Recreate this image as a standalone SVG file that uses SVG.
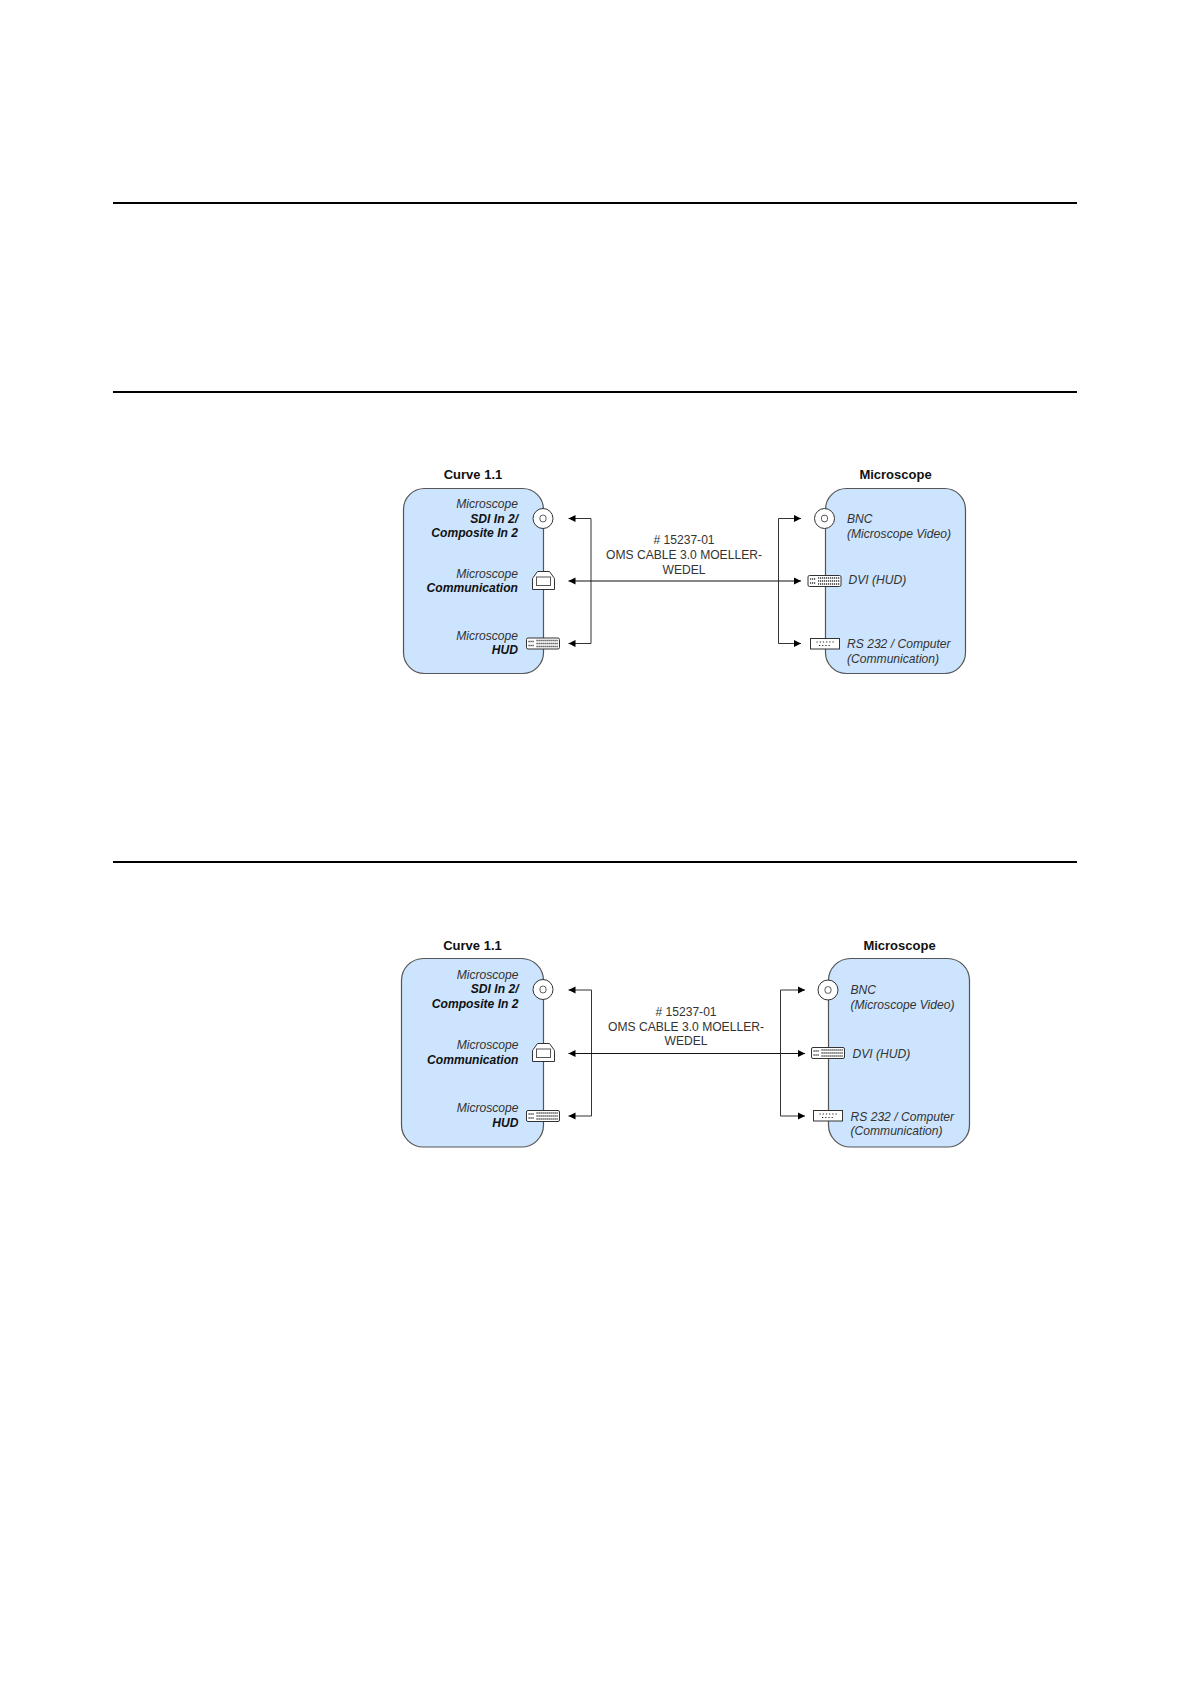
<svg xmlns="http://www.w3.org/2000/svg" width="1191" height="1684" viewBox="0 0 1191 1684">
<style>
text{font-family:"Liberation Sans",Arial,sans-serif;fill:#222;font-size:12.1px}
.h{font-weight:bold;font-size:13px;text-anchor:middle;fill:#111}
.i{font-style:italic;fill:#333}
.b{font-style:italic;font-weight:bold;fill:#111}
.r{text-anchor:end}
.c{text-anchor:middle;fill:#333}
.box{fill:#cce4fd;stroke:#555;stroke-width:1.200}
.ic{fill:#fff;stroke:#333;stroke-width:1}
.in{fill:#fff;stroke:#555;stroke-width:1}
.rule{stroke:#000;stroke-width:2}
.w{fill:none;stroke:#333;stroke-width:1}
.m{fill:none;stroke:#111;stroke-width:1.200}
.pin{fill:none;stroke:#333;stroke-width:1.400;stroke-dasharray:1.200 0.800}
</style>
<defs>
<marker id="ah" markerUnits="userSpaceOnUse" markerWidth="8" markerHeight="8" refX="7" refY="4" orient="auto-start-reverse"><path d="M0 0.500L7 4L0 7.500Z" fill="#000"/></marker>
<g id="bnc"><circle r="10" class="ic"/><rect x="-3" y="-3.300" width="6" height="6.600" rx="2.500" class="in"/></g>
<g id="usb"><path d="M0 18V7L5 0H17L22 7V18Z" class="ic"/><rect x="4" y="5.500" width="14" height="8.500" class="in"/></g>
<g id="dvi"><rect width="33" height="11" rx="1.500" class="ic"/><path d="M2 3.500H8M2 7.500H8" class="pin"/><path d="M10 2.500H31.500M10 5.500H31.500M10 8.500H31.500" class="pin"/></g>
<g id="rs"><rect width="29" height="10.500" class="ic"/><path d="M6 3.500H24M8.500 7H21" stroke="#222" stroke-width="1.200" stroke-dasharray="1.200 2" fill="none"/></g>
</defs>
<g id="rules">
<line class="rule" x1="113" y1="203" x2="1077" y2="203"/>
<line class="rule" x1="113" y1="392" x2="1077" y2="392"/>
<line class="rule" x1="113" y1="862" x2="1077" y2="862"/>
</g>

<g id="curve-top">
<text class="h" x="473" y="479">Curve 1.1</text>
<rect class="box" x="403.500" y="488.500" width="140" height="185" rx="21"/>
<text class="i r" x="518" y="508">Microscope</text>
<text class="b r" x="518" y="522.500">SDI In 2/</text>
<text class="b r" x="518" y="537">Composite In 2</text>
<text class="i r" x="518" y="578">Microscope</text>
<text class="b r" x="518" y="592">Communication</text>
<text class="i r" x="518" y="640">Microscope</text>
<text class="b r" x="518" y="654">HUD</text>
<use href="#bnc" x="543" y="518.500"/>
<use href="#usb" x="532.500" y="571.500"/>
<use href="#dvi" x="526.500" y="638"/>
</g>
<g id="microscope-top">
<text class="h" x="895.500" y="479">Microscope</text>
<rect class="box" x="825.500" y="488.500" width="140" height="185" rx="21"/>
<text class="i" x="847" y="523">BNC</text>
<text class="i" x="847" y="538">(Microscope Video)</text>
<text class="i" x="848.500" y="584">DVI (HUD)</text>
<text class="i" x="847" y="648">RS 232 / Computer</text>
<text class="i" x="847" y="663">(Communication)</text>
<use href="#bnc" x="824.500" y="518.500"/>
<use href="#dvi" x="808" y="575.500"/>
<use href="#rs" x="810.500" y="638.500"/>
</g>
<g id="cable-top">
<text class="c" x="684" y="544"># 15237-01</text>
<text class="c" x="684" y="559">OMS CABLE 3.0 MOELLER-</text>
<text class="c" x="684" y="574">WEDEL</text>
</g>

<g id="curve-bottom">
<text class="h" x="472.500" y="950">Curve 1.1</text>
<rect class="box" x="401.500" y="958.500" width="142" height="188.500" rx="22"/>
<text class="i r" x="518.500" y="979">Microscope</text>
<text class="b r" x="518.500" y="993">SDI In 2/</text>
<text class="b r" x="518.500" y="1008">Composite In 2</text>
<text class="i r" x="518.500" y="1049">Microscope</text>
<text class="b r" x="518.500" y="1064">Communication</text>
<text class="i r" x="518.500" y="1112">Microscope</text>
<text class="b r" x="518.500" y="1127">HUD</text>
<use href="#bnc" x="543" y="989.500"/>
<use href="#usb" x="532.500" y="1043.500"/>
<use href="#dvi" x="526.500" y="1110.500"/>
</g>
<g id="microscope-bottom">
<text class="h" x="899.500" y="950">Microscope</text>
<rect class="box" x="828.500" y="958.500" width="141" height="188.500" rx="22"/>
<text class="i" x="850.500" y="994">BNC</text>
<text class="i" x="850.500" y="1009">(Microscope Video)</text>
<text class="i" x="852.500" y="1057.500">DVI (HUD)</text>
<text class="i" x="850.500" y="1121">RS 232 / Computer</text>
<text class="i" x="850.500" y="1135">(Communication)</text>
<use href="#bnc" x="828" y="990"/>
<use href="#dvi" x="811.500" y="1047.500"/>
<use href="#rs" x="813.500" y="1110.500"/>
</g>
<g id="cable-bottom">
<text class="c" x="686" y="1016"># 15237-01</text>
<text class="c" x="686" y="1031">OMS CABLE 3.0 MOELLER-</text>
<text class="c" x="686" y="1045">WEDEL</text>
</g>

<g id="connectors">
<path class="w" d="M568.500 518.500H591V643.500H568.500" marker-start="url(#ah)" marker-end="url(#ah)"/>
<path class="m" d="M568.500 581H801" marker-start="url(#ah)" marker-end="url(#ah)"/>
<path class="w" d="M801 518.500H778.500V643.500H801" marker-start="url(#ah)" marker-end="url(#ah)"/>
<path class="w" d="M568.500 990H591.500V1116H568.500" marker-start="url(#ah)" marker-end="url(#ah)"/>
<path class="m" d="M568.500 1053.500H805" marker-start="url(#ah)" marker-end="url(#ah)"/>
<path class="w" d="M805 990H780.500V1116H805" marker-start="url(#ah)" marker-end="url(#ah)"/>
</g>
</svg>
